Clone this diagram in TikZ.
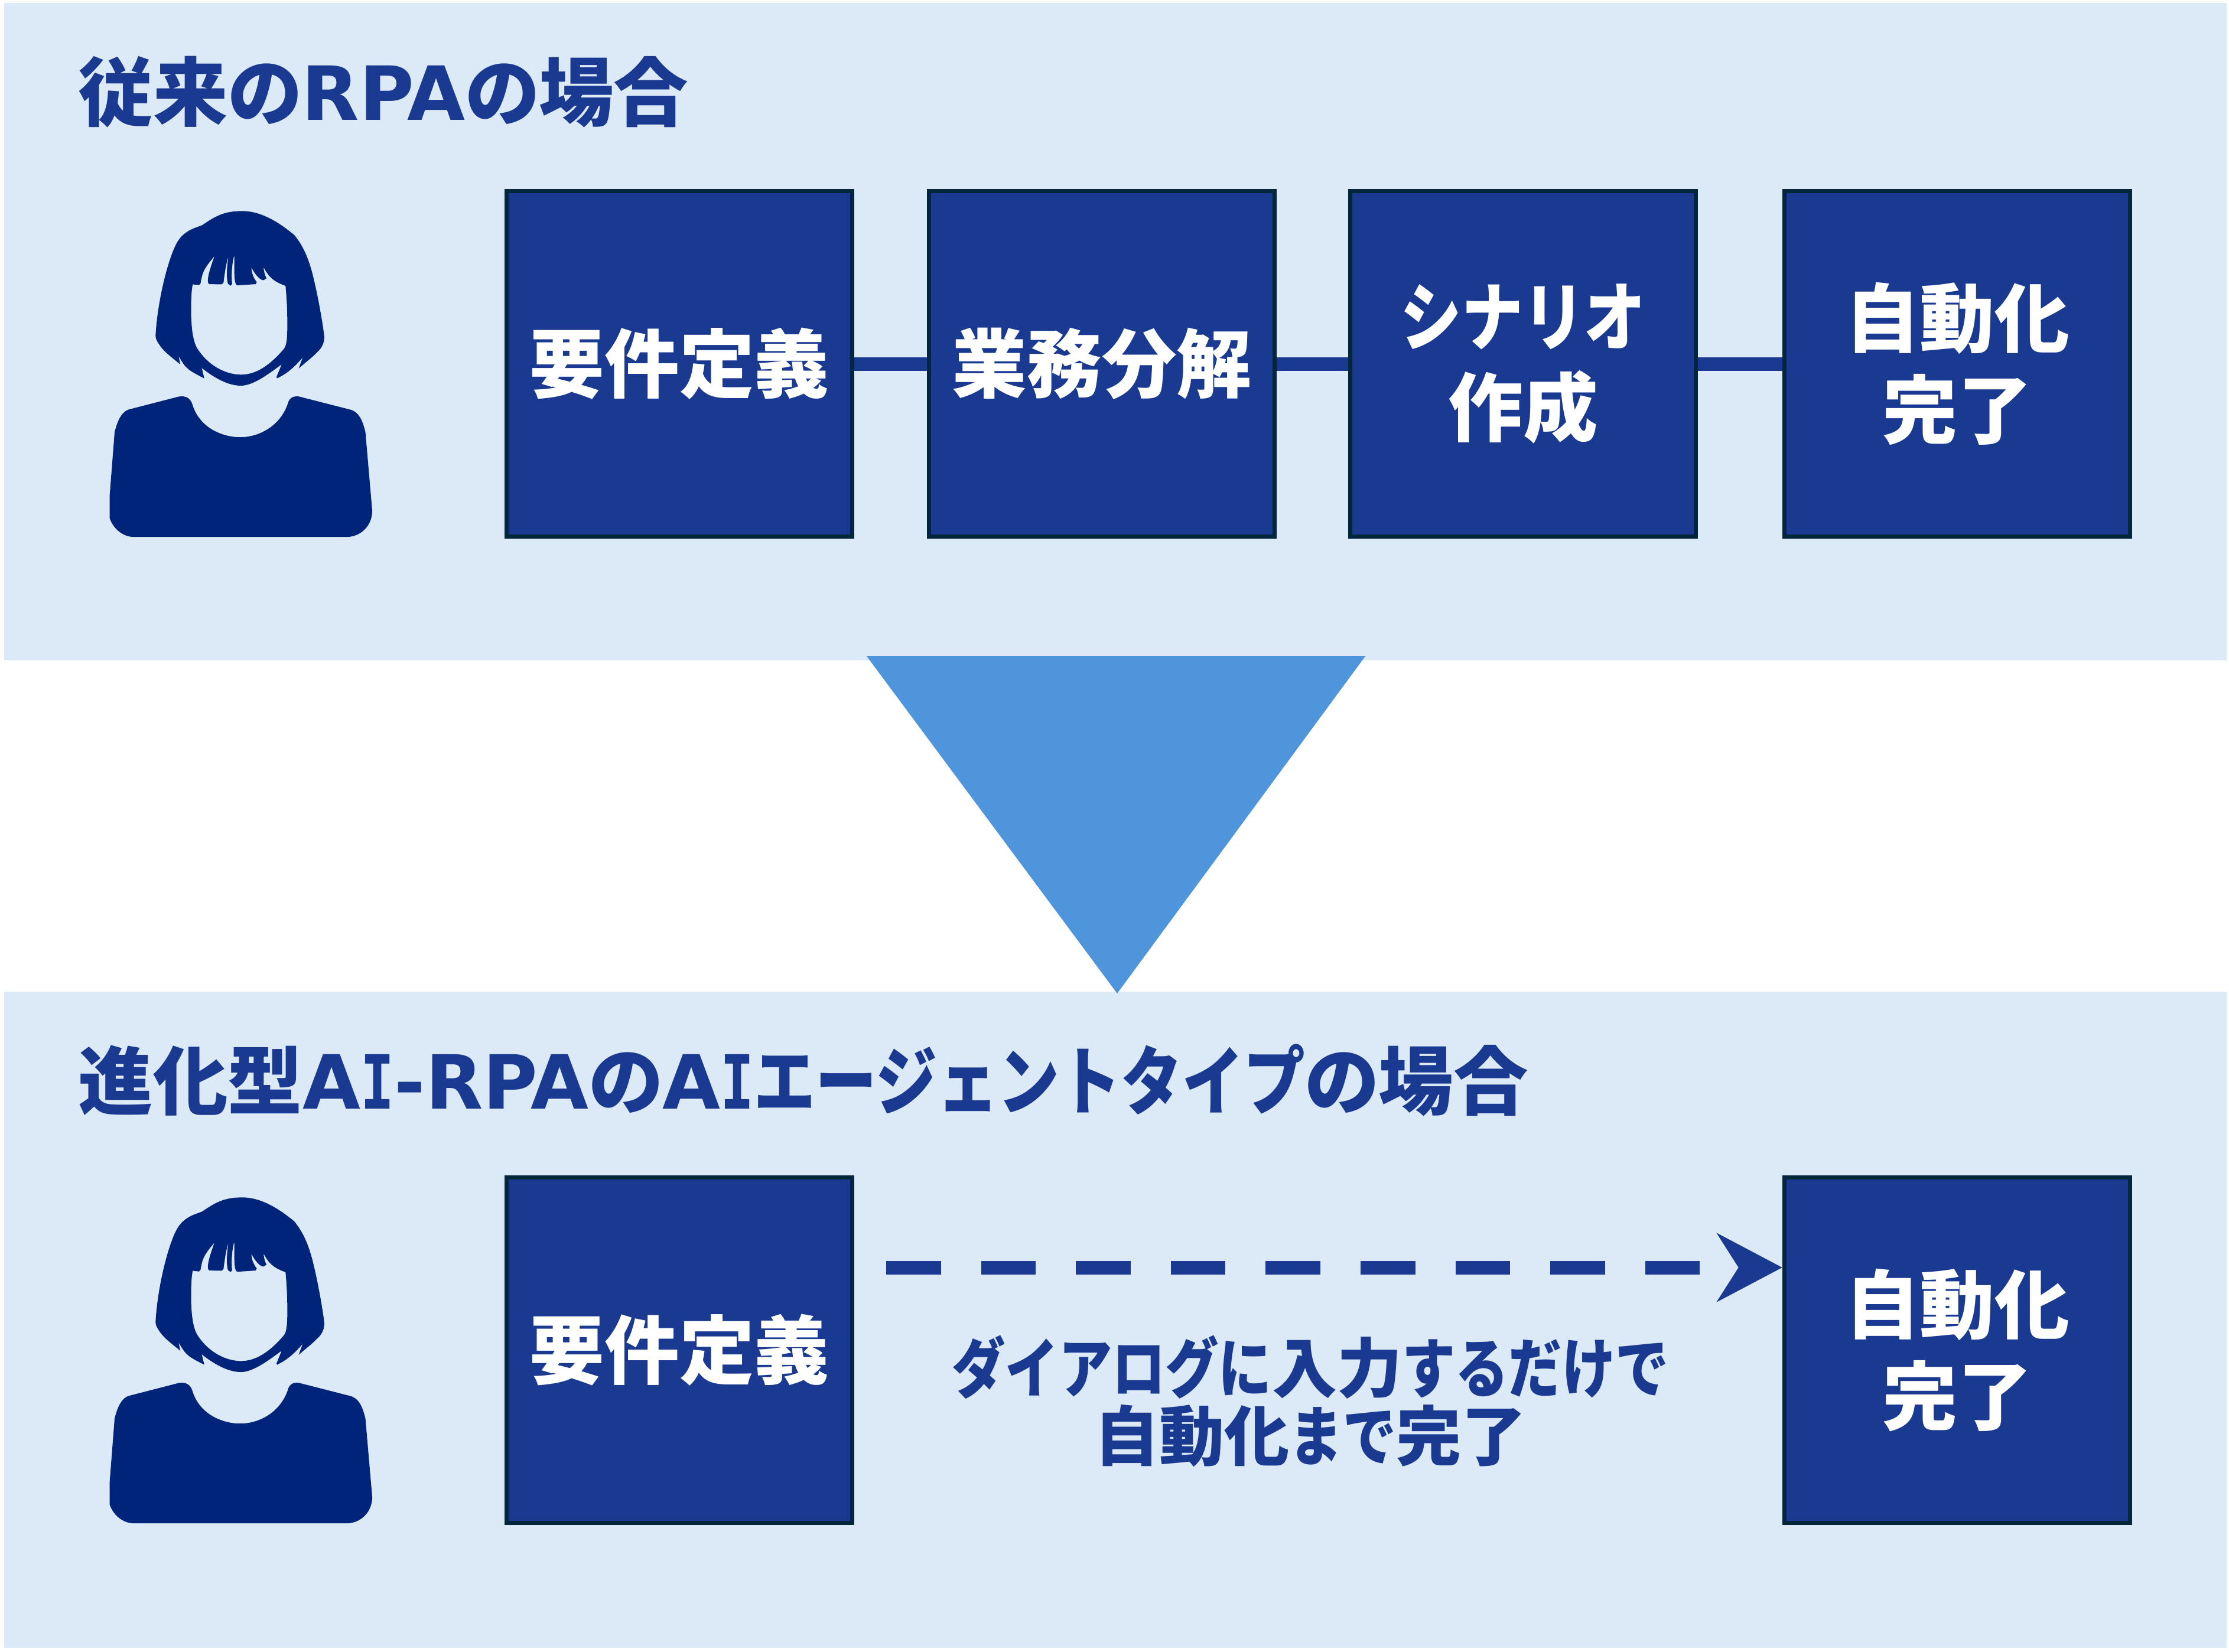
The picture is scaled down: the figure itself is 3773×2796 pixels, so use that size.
\documentclass[tikz,border=0pt]{standalone}
\usepackage{fontspec}
\setmainfont{Noto Sans CJK JP}[RawFeature=+palt]
\newfontfamily\kanafont{Noto Sans CJK JP}[FakeStretch=.82]
\newfontfamily\latinfont{DejaVu Sans}
\newfontfamily\barfont{DejaVu Sans Mono}[FakeStretch=.75]
\usetikzlibrary{arrows.meta}
\definecolor{panelblue}{HTML}{DCE9F7}
\definecolor{boxblue}{HTML}{1A3A92}
\definecolor{boxline}{HTML}{04263A}
\definecolor{wedgeblue}{HTML}{4F95DB}
\definecolor{personblue}{HTML}{00247A}
\newcommand{\lat}[1]{{\latinfont #1}}
\newcommand{\kana}[1]{{\kanafont #1}}
\newcommand{\barI}{{\barfont I}}
\tikzset{
stepbox/.style={draw=boxline,line width=.07cm,fill=boxblue,text=white,minimum width=5.85cm,minimum height=5.85cm,inner sep=0pt,align=center,font=\fontsize{36}{44}\bfseries},
headline/.style={anchor=west,inner sep=0pt,text=boxblue,font=\fontsize{36}{44}\bfseries},
note/.style={inner sep=0pt,text=boxblue,align=center,font=\fontsize{31.3}{32.7}\bfseries},
link/.style={draw=boxblue,line width=.23cm},
dashlink/.style={draw=boxblue,line width=.23cm,dash pattern=on .925cm off .68cm,-{Stealth[length=1.1cm,width=1.15cm,inset=.36cm]}},
personicon/.pic={
\begin{scope}[x=.003827cm,y=-.004146cm]
\fill[personblue] (145,1300)--(167,1040) .. controls (180,990) and (200,955) .. (230,947)--(440,897)
 .. controls (470,888) and (500,895) .. (510,925) .. controls (540,1020) and (640,1060) .. (722,1060)
 .. controls (810,1060) and (905,1010) .. (935,915) .. controls (945,895) and (965,890) .. (985,895)--(1205,947)
 .. controls (1245,955) and (1262,990) .. (1275,1040)--(1305,1360) .. controls (1305,1420) and (1255,1467) .. (1190,1467)
 --(255,1467) .. controls (200,1467) and (160,1430) .. (145,1390)--cycle;
\fill[personblue,even odd rule] (730,138) .. controls (820,138) and (900,190) .. (960,235)
 .. controls (1005,285) and (1025,340) .. (1040,390) .. controls (1065,480) and (1085,590) .. (1092,640)
 .. controls (1097,670) and (1085,695) .. (1060,715) .. controls (1040,735) and (1010,755) .. (980,780)--(998,735)
 .. controls (960,775) and (930,800) .. (885,820)--(882,815)--(905,763) .. controls (850,800) and (780,850) .. (725,850)
 .. controls (670,850) and (610,820) .. (552,778)--(563,820) .. controls (530,805) and (500,790) .. (490,780)
 .. controls (475,770) and (460,745) .. (450,730)--(457,763) .. controls (420,735) and (390,715) .. (370,690)
 .. controls (350,665) and (348,655) .. (348,645) .. controls (355,530) and (385,410) .. (410,340)
 .. controls (430,285) and (445,255) .. (470,235) .. controls (500,210) and (530,205) .. (555,195)
 .. controls (610,160) and (650,138) .. (730,138)--cycle
 (512,437)--(540,440)--(547,432) .. controls (555,380) and (570,365) .. (608,322)
 .. controls (590,370) and (575,410) .. (580,430)--(585,436)--(640,437)--(648,430)
 .. controls (655,380) and (660,350) .. (670,322) .. controls (660,380) and (662,420) .. (668,435)
 --(680,442)--(686,435) .. controls (682,400) and (685,350) .. (696,318) .. controls (695,400) and (695,440) .. (710,441)
 --(790,436)--(795,428) .. controls (780,410) and (772,390) .. (771,368) .. controls (790,400) and (810,420) .. (825,420)
 --(838,412) .. controls (830,400) and (826,380) .. (825,367) .. controls (850,410) and (870,425) .. (922,443)
 .. controls (928,500) and (930,550) .. (930,600) .. controls (930,650) and (928,685) .. (915,700)
 .. controls (850,770) and (790,805) .. (725,805) .. controls (660,805) and (580,770) .. (530,695)
 .. controls (510,660) and (505,600) .. (505,540) .. controls (505,490) and (507,460) .. (512,437)--cycle;
\end{scope}
}
}
\begin{document}
\begin{tikzpicture}[x=.01cm,y=-.01cm]
\useasboundingbox (0,0) rectangle (3773,2796);
\fill[panelblue] (7,5) rectangle (3769,1118);
\fill[panelblue] (7,1679) rectangle (3769,2790);
\fill[wedgeblue] (1467,1111)--(2311,1111)--(1891,1682)--cycle;

%upper row
\node (TitleA)[headline] at (132,156) {従来の\lat{RPA}の場合};
\pic at (130,300) {personicon};
\node (BoxA1)[stepbox] at (1150,616) {要件定義};
\node (BoxA2)[stepbox] at (1865,616) {業務分解};
\node (BoxA3)[stepbox] at (2578,616) {\kana{シナリオ}\\作成};
\node (BoxA4)[stepbox] at (3313,616) {自動化\\完了};
\draw[link] (BoxA1)--(BoxA2);
\draw[link] (BoxA2)--(BoxA3);
\draw[link] (BoxA3)--(BoxA4);

%lower row
\node (TitleB)[headline] at (132,1829) {進化型\lat{A}\barI\lat{-RPA}の\lat{A}\barI\kana{エージェントタイプ}の場合};
\pic at (130,1970) {personicon};
\node (BoxB1)[stepbox] at (1150,2286) {要件定義};
\node (BoxB2)[stepbox] at (3313,2286) {自動化\\完了};
\coordinate (DashB) at (1500,2146);
\draw[dashlink] (DashB)--(DashB-|BoxB2.west);
\node (NoteB)[note] at (2218,2372) {\kana{ダイアログに}入力\kana{するだけで}\\自動化\kana{まで}完了};
\end{tikzpicture}
\end{document}
